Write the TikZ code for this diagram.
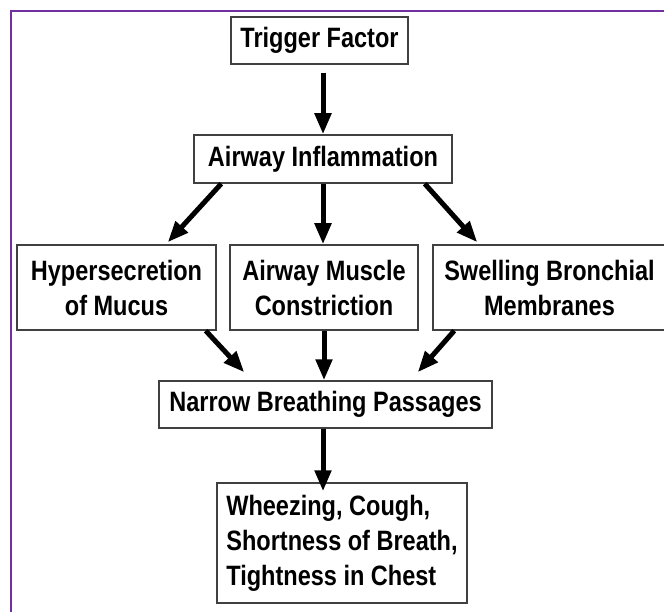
\documentclass[tikz,border=0pt]{standalone}
\usepackage{fontspec}
\setmainfont{Liberation Sans}[FakeStretch=0.84]
\usetikzlibrary{arrows.meta,calc}
\definecolor{framepurple}{HTML}{7030A0}
\tikzset{
  box/.style={draw=black!75, line width=1.5pt, fill=white, inner sep=0pt,
    font=\bfseries\fontsize{28}{35}\selectfont, align=center},
  arr/.style={line width=5pt, -{Triangle[length=21pt,width=16pt]}}
}
\begin{document}
\begin{tikzpicture}[x=1pt,y=-1pt]
\useasboundingbox (0,0) rectangle (664,612);
\clip (0,0) rectangle (664,612);
\fill[white] (0,0) rectangle (664,612);
\draw[framepurple, line width=2.5pt] (11,11) rectangle (720,720);

\node[box, minimum width=177pt, minimum height=47pt] (trig) at (319.5,40.5) {Trigger Factor};
\node[box, minimum width=258pt, minimum height=48pt] (infl) at (323,159) {Airway Inflammation};
\node[box, minimum width=199pt, minimum height=85pt] (hyp) at (116.5,287.5) {Hypersecretion\\of Mucus};
\node[box, minimum width=188pt, minimum height=85pt] (musc) at (324,287.5) {Airway Muscle\\Constriction};
\node[box, minimum width=233pt, minimum height=85pt] (swel) at (549.5,287.5) {Swelling Bronchial\\Membranes};
\node[box, minimum width=333pt, minimum height=47pt] (narrow) at (325.5,404.5) {Narrow Breathing Passages};
\node[box, align=left, minimum width=250pt, minimum height=120pt] (wh) at (342,543)
  {Wheezing, Cough,\\Shortness of Breath,\\Tightness in Chest};

\draw[arr] ($(infl.north |- trig.south)+(0,8)$) -- (infl.north);
\draw[arr] ($(infl.south west)+(28,0)$) -- ($(hyp.north east)+(-49,-2)$);
\draw[arr] (infl.south) -- (infl.south |- musc.north);
\draw[arr] ($(infl.south east)+(-28,0)$) -- ($(swel.north west)+(45,-2)$);
\draw[arr] ($(hyp.south east)+(-11,0)$) -- ($(narrow.north west)+(86,-8)$);
\draw[arr] (musc.south) -- (musc.south |- narrow.north);
\draw[arr] ($(swel.south west)+(22,0)$) -- ($(narrow.north east)+(-75,-8)$);
\draw[arr] ($(narrow.south)+(-2.5,0)$) -- ($(wh.north)+(-19,9)$);
\end{tikzpicture}
\end{document}
